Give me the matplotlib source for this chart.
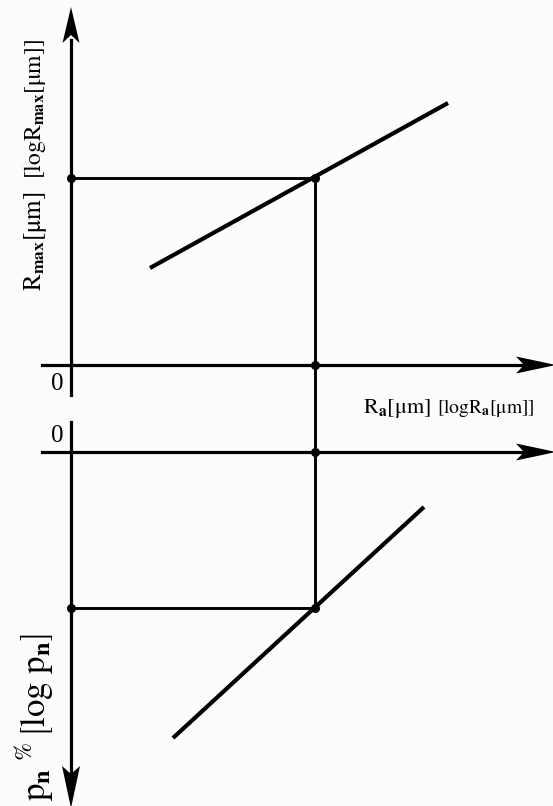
import numpy as np
import matplotlib.pyplot as plt

plt.rcParams['mathtext.fontset'] = 'stix'
plt.rcParams['font.family'] = ['Liberation Serif', 'DejaVu Serif']

# ejes (coordenadas del esquema)
x0 = 71            # eje vertical comun
y_top = 365        # eje Ra de arriba
y_bot = 452        # eje Ra de abajo

# punto leido
ra = 315
rmax = 178
pn = 608

# rectas Rmax = f(Ra) y pn = f(Ra)
rmax_x = [150, 448]
rmax_y = [268, 103]
pn_x = [173, 424]
pn_y = [738, 507]


def flecha(ax, tip, d, L=36, w=8.5, notch=8):
    tip = np.array(tip, float)
    d = np.array(d, float) / np.hypot(*d)
    n = np.array([-d[1], d[0]])
    base = tip - d * L
    pts = [tip, base + n * w, tip - d * (L - notch), base - n * w]
    ax.fill(*zip(*pts), color='k', lw=0)


fig = plt.figure(figsize=(5.53, 8.06), dpi=100, facecolor='#fcfcfc')
ax = fig.add_axes([0, 0, 1, 1])
ax.set_xlim(0, 553); ax.set_ylim(806, 0)
ax.axis('off')

lw_ax = 2.3
# ejes de arriba
ax.plot([x0, x0], [395, 40], 'k', lw=lw_ax)
ax.plot([42, 525], [y_top, y_top], 'k', lw=lw_ax)
flecha(ax, (x0, 7), (0, -1))
flecha(ax, (556, y_top), (1, 0), L=40)
# ejes de abajo
ax.plot([x0, x0], [422, 775], 'k', lw=lw_ax)
ax.plot([42, 525], [y_bot, y_bot], 'k', lw=lw_ax)
flecha(ax, (x0, 808), (0, 1), L=42, w=9)
flecha(ax, (556, y_bot), (1, 0), L=40)

# rectas
ax.plot(rmax_x, rmax_y, 'k', lw=3, solid_capstyle='butt')
ax.plot(pn_x, pn_y, 'k', lw=3, solid_capstyle='butt')

# lineas de lectura
ax.plot([x0, ra], [rmax, rmax], 'k', lw=2.1)
ax.plot([ra, ra], [rmax, pn], 'k', lw=2.1)
ax.plot([x0, ra], [pn, pn], 'k', lw=2.1)
ax.plot([x0, ra, ra, ra, ra, x0], [rmax, rmax, y_top, y_bot, pn, pn], 'ko', ms=5.5, lw=0)

# textos
ax.text(57, 384, '0', fontsize=18, ha='center', va='center')
ax.text(57, 436, '0', fontsize=18, ha='center', va='center')
ax.text(363, 413, r'$\mathrm{R}_{\mathbf{a}}\mathrm{[μm]}$', fontsize=16, va='baseline')
ax.text(437, 413, r'$\mathrm{[logR}_{\mathbf{a}}\mathrm{[μm]]}$', fontsize=14, va='baseline')
ax.text(41, 291, r'$\mathrm{R}_{\mathbf{max}}\mathrm{[μm]}$', fontsize=18, rotation=90,
        ha='left', va='baseline', rotation_mode='anchor')
ax.text(41, 179, r'$\mathrm{[logR}_{\mathbf{max}}\mathrm{[μm]]}$', fontsize=17, rotation=90,
        ha='left', va='baseline', rotation_mode='anchor')
ax.text(35, 801, r'$\mathrm{p}_{\mathbf{n}}\;{}^{\%}\,\left[\mathrm{log\ p}_{\mathbf{n}}\right]$',
        fontsize=25, rotation=90, ha='left', va='center', rotation_mode='anchor')

fig.savefig('out.png', dpi=100, facecolor=fig.get_facecolor())
